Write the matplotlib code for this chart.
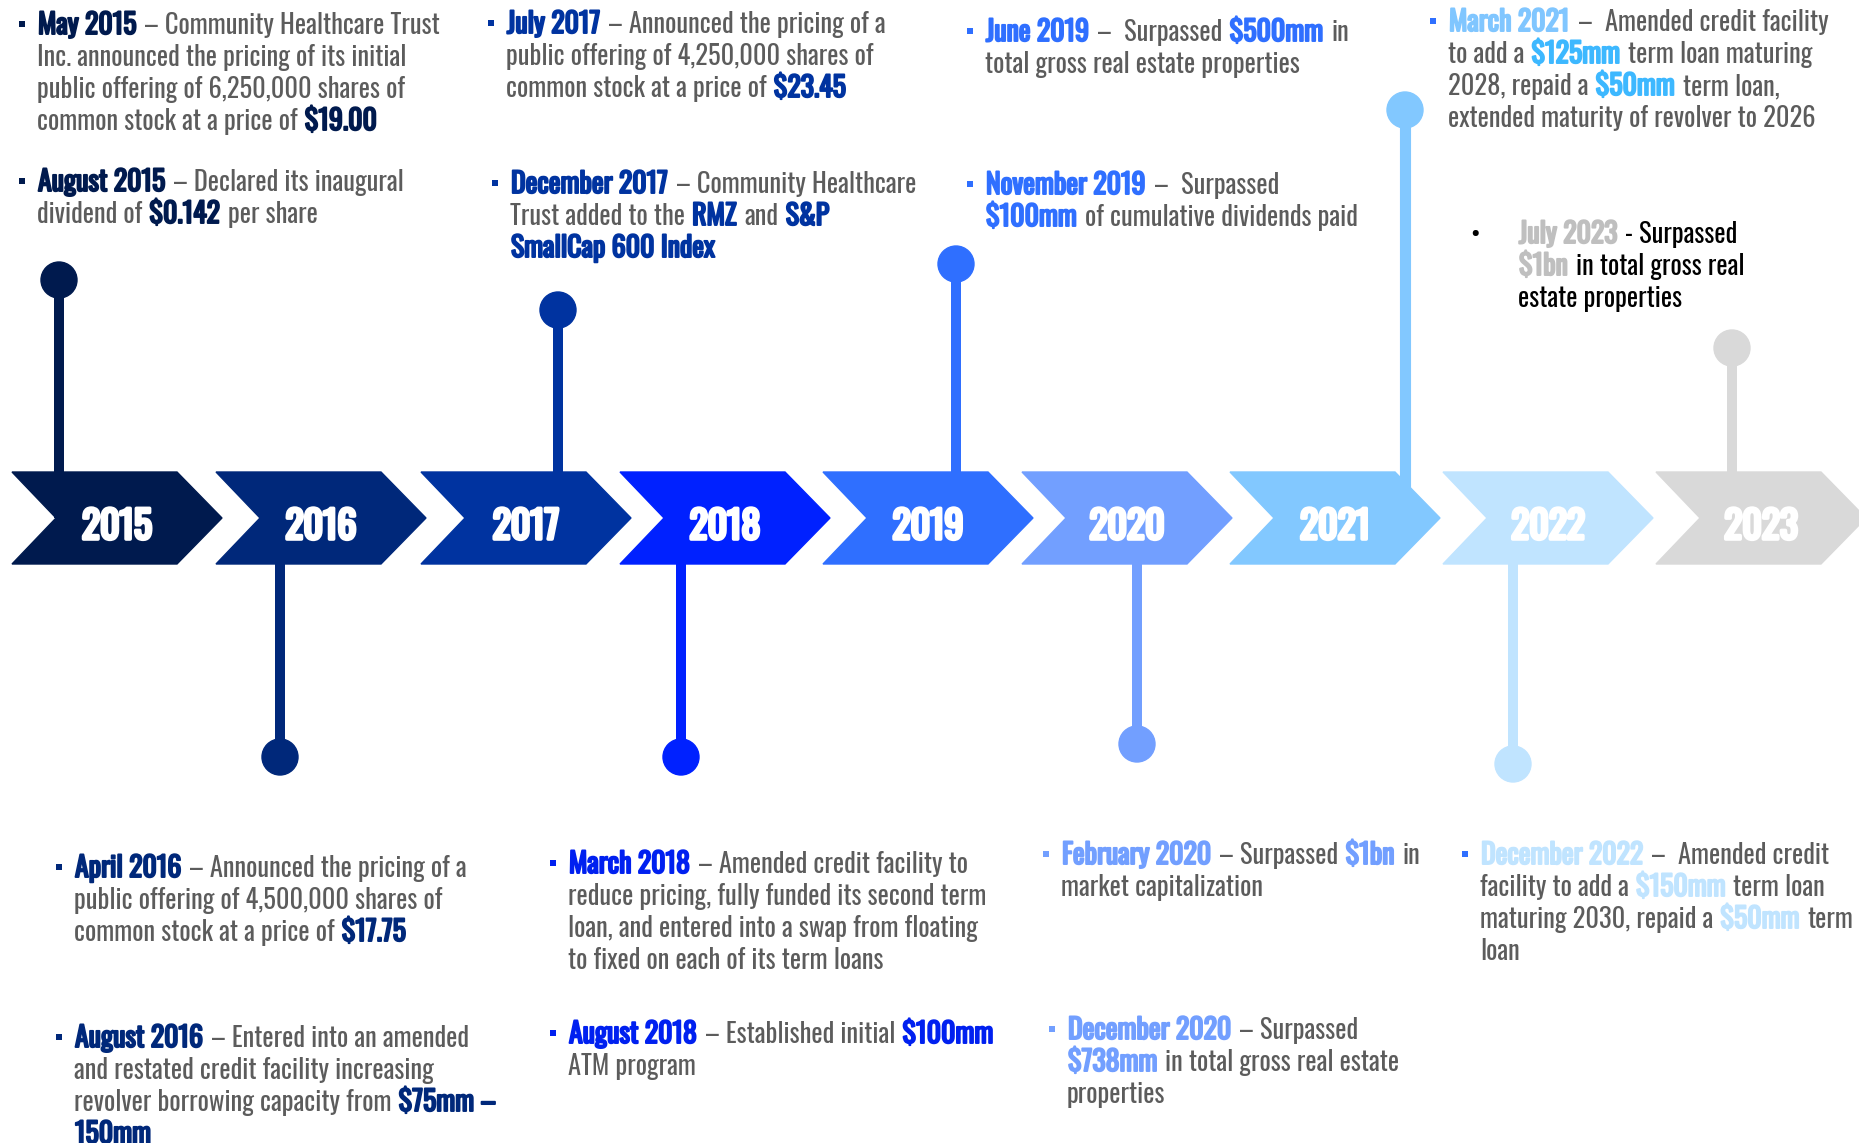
import matplotlib
matplotlib.use('Agg')
import matplotlib.pyplot as plt
import matplotlib.patheffects as pe
from matplotlib.patches import Polygon, Circle

# timeline years and their arrow colours
years = ['2015', '2016', '2017', '2018', '2019', '2020', '2021', '2022', '2023']
year_colors = ['#001A4E', '#00287A', '#0033A0', '#0021FF', '#2F6FFF',
               '#729FFF', '#82C8FF', '#C0E4FF', '#D9D9D9']

# milestone notes (**bold** = highlighted)
notes = [
    "**May 2015** – Community Healthcare Trust\nInc. announced the pricing of its initial\n"
    "public offering of 6,250,000 shares of\ncommon stock at a price of **$19.00**",
    "**August 2015** – Declared its inaugural\ndividend of **$0.142** per share",
    "**July 2017** – Announced the pricing of a\npublic offering of 4,250,000 shares of\n"
    "common stock at a price of **$23.45**",
    "**December 2017** – Community Healthcare\nTrust added to the **RMZ** and **S&P**\n"
    "**SmallCap 600 Index**",
    "**June 2019** –  Surpassed **$500mm** in\ntotal gross real estate properties",
    "**November 2019** –  Surpassed\n**$100mm** of cumulative dividends paid",
    "**March 2021** –  Amended credit facility\nto add a **$125mm** term loan maturing\n"
    "2028, repaid a **$50mm** term loan,\nextended maturity of revolver to 2026",
    "**July 2023** - Surpassed\n**$1bn** in total gross real\nestate properties",
    "**April 2016** – Announced the pricing of a\npublic offering of 4,500,000 shares of\n"
    "common stock at a price of **$17.75**",
    "**August 2016** – Entered into an amended\nand restated credit facility increasing\n"
    "revolver borrowing capacity from **$75mm –**\n**150mm**",
    "**March 2018** – Amended credit facility to\nreduce pricing, fully funded its second term\n"
    "loan, and entered into a swap from floating\nto fixed on each of its term loans",
    "**August 2018** – Established initial **$100mm**\nATM program",
    "**February 2020** – Surpassed **$1bn** in\nmarket capitalization",
    "**December 2020** – Surpassed\n**$738mm** in total gross real estate\nproperties",
    "**December 2022** –  Amended credit\nfacility to add a **$150mm** term loan\n"
    "maturing 2030, repaid a **$50mm** term\nloan",
]
date_colors = ['#001A4E', '#001A4E', '#0033A0', '#0033A0', '#2F6FFF', '#2F6FFF',
               '#80C6FF', '#BFBFBF', '#00287A', '#00287A', '#0020F0', '#0020F0',
               '#729FFF', '#729FFF', '#C0E4FF']
value_colors = ['#001A4E', '#001A4E', '#0033A0', '#0033A0', '#2F6FFF', '#2F6FFF',
                '#3DB8FF', '#BFBFBF', '#00287A', '#00287A', '#0020F0', '#0020F0',
                '#729FFF', '#729FFF', '#C0E4FF']
body_colors = ['#5C5C5C'] * 7 + ['#000000'] + ['#5C5C5C'] * 7
bullet_colors = ['#001A4E', '#001A4E', '#0033A0', '#0033A0', '#2F6FFF', '#2F6FFF',
                 '#2F6FFF', '#000000', '#00287A', '#00287A', '#0020F0', '#0020F0',
                 '#729FFF', '#729FFF', '#2F6FFF']

# layout (pixels)
chevron_left = [12, 216, 421, 620, 823, 1022, 1230, 1443, 1656]
pin_x = [59, 280, 558, 681, 956, 1137, 1405, 1513, 1732]
pin_y = [280, 757, 310, 757, 264, 744, 110, 764, 348]
note_x = [37, 37, 506, 510, 985, 985, 1448, 1518, 74, 74, 568, 568, 1061, 1067, 1480]
note_y = [34, 191, 33, 193, 41, 194, 31, 243, 877, 1047, 873, 1043, 864, 1039, 864]

W, H = 1859, 1143
TOP, BOT, MID = 472, 564, 518
FONT = ['Oswald', 'DejaVu Sans']
LINE = 32

fig = plt.figure(figsize=(W / 100, H / 100), dpi=100)
ax = fig.add_axes([0, 0, 1, 1])
ax.set_xlim(0, W)
ax.set_ylim(H, 0)
ax.axis('off')
renderer = fig.canvas.get_renderer()


def measure(s, size):
    t = ax.text(0, 0, s, fontsize=size, family=FONT, parse_math=False)
    w = t.get_window_extent(renderer).width
    t.remove()
    return w


# size the text so a reference line matches the width in the original
BODY = 20 * 370 / measure('Inc. announced the pricing of its initial', 20)
BOLD = BODY * 1.05
YEAR = 30 * 70 / measure('2015', 30)
SPACE = measure('a a', BODY) - measure('aa', BODY)
STROKE = 1.4


def bold_fx(color, lw=STROKE):
    return [pe.withStroke(linewidth=lw, foreground=color)]


# pins
for i in range(len(years)):
    lw = 8 if i == 6 else 7.2
    ax.plot([pin_x[i], pin_x[i]], [pin_y[i], MID], color=year_colors[i],
            lw=lw, solid_capstyle='butt', zorder=1)
    ax.add_patch(Circle((pin_x[i], pin_y[i]), 18, color=year_colors[i], zorder=1))

# chevrons
for i, yr in enumerate(years):
    L = chevron_left[i]
    pts = [(L, TOP), (L + 165, TOP), (L + 210, MID), (L + 165, BOT), (L, BOT), (L + 44, MID)]
    ax.add_patch(Polygon(pts, closed=True, color=year_colors[i], zorder=2))
    ax.text(L + 105, 539, yr, ha='center', va='baseline', color='white',
            fontsize=YEAR, family=FONT, zorder=3, path_effects=bold_fx('white', 2.6))

for n, text in enumerate(notes):
    x0, y0 = note_x[n], note_y[n]
    if n == 7:
        ax.text(x0 - 43, y0, '•', color='black', fontsize=BODY, family=FONT,
                ha='center', va='baseline')
    else:
        ax.plot(x0 - 15, y0 - 10, marker='s', ms=4.2, color=bullet_colors[n], mew=0)
    nbold = 0
    for k, line in enumerate(text.split('\n')):
        cx = x0
        y = y0 + k * LINE
        for j, part in enumerate(line.split('**')):
            if not part:
                continue
            bold = j % 2 == 1
            if bold:
                color = date_colors[n] if nbold == 0 else value_colors[n]
                nbold += 1
            else:
                color = body_colors[n]
            core = part.strip(' ')
            cx += (len(part) - len(part.lstrip(' '))) * SPACE
            if core:
                t = ax.text(cx + (1 if bold else 0), y, core, color=color,
                            fontsize=BOLD if bold else BODY, family=FONT,
                            va='baseline', ha='left', parse_math=False,
                            path_effects=bold_fx(color) if bold else None)
                cx += t.get_window_extent(renderer).width + (3 if bold else 0)
            cx += (len(part) - len(part.rstrip(' '))) * SPACE

fig.savefig('out.png', dpi=100)
